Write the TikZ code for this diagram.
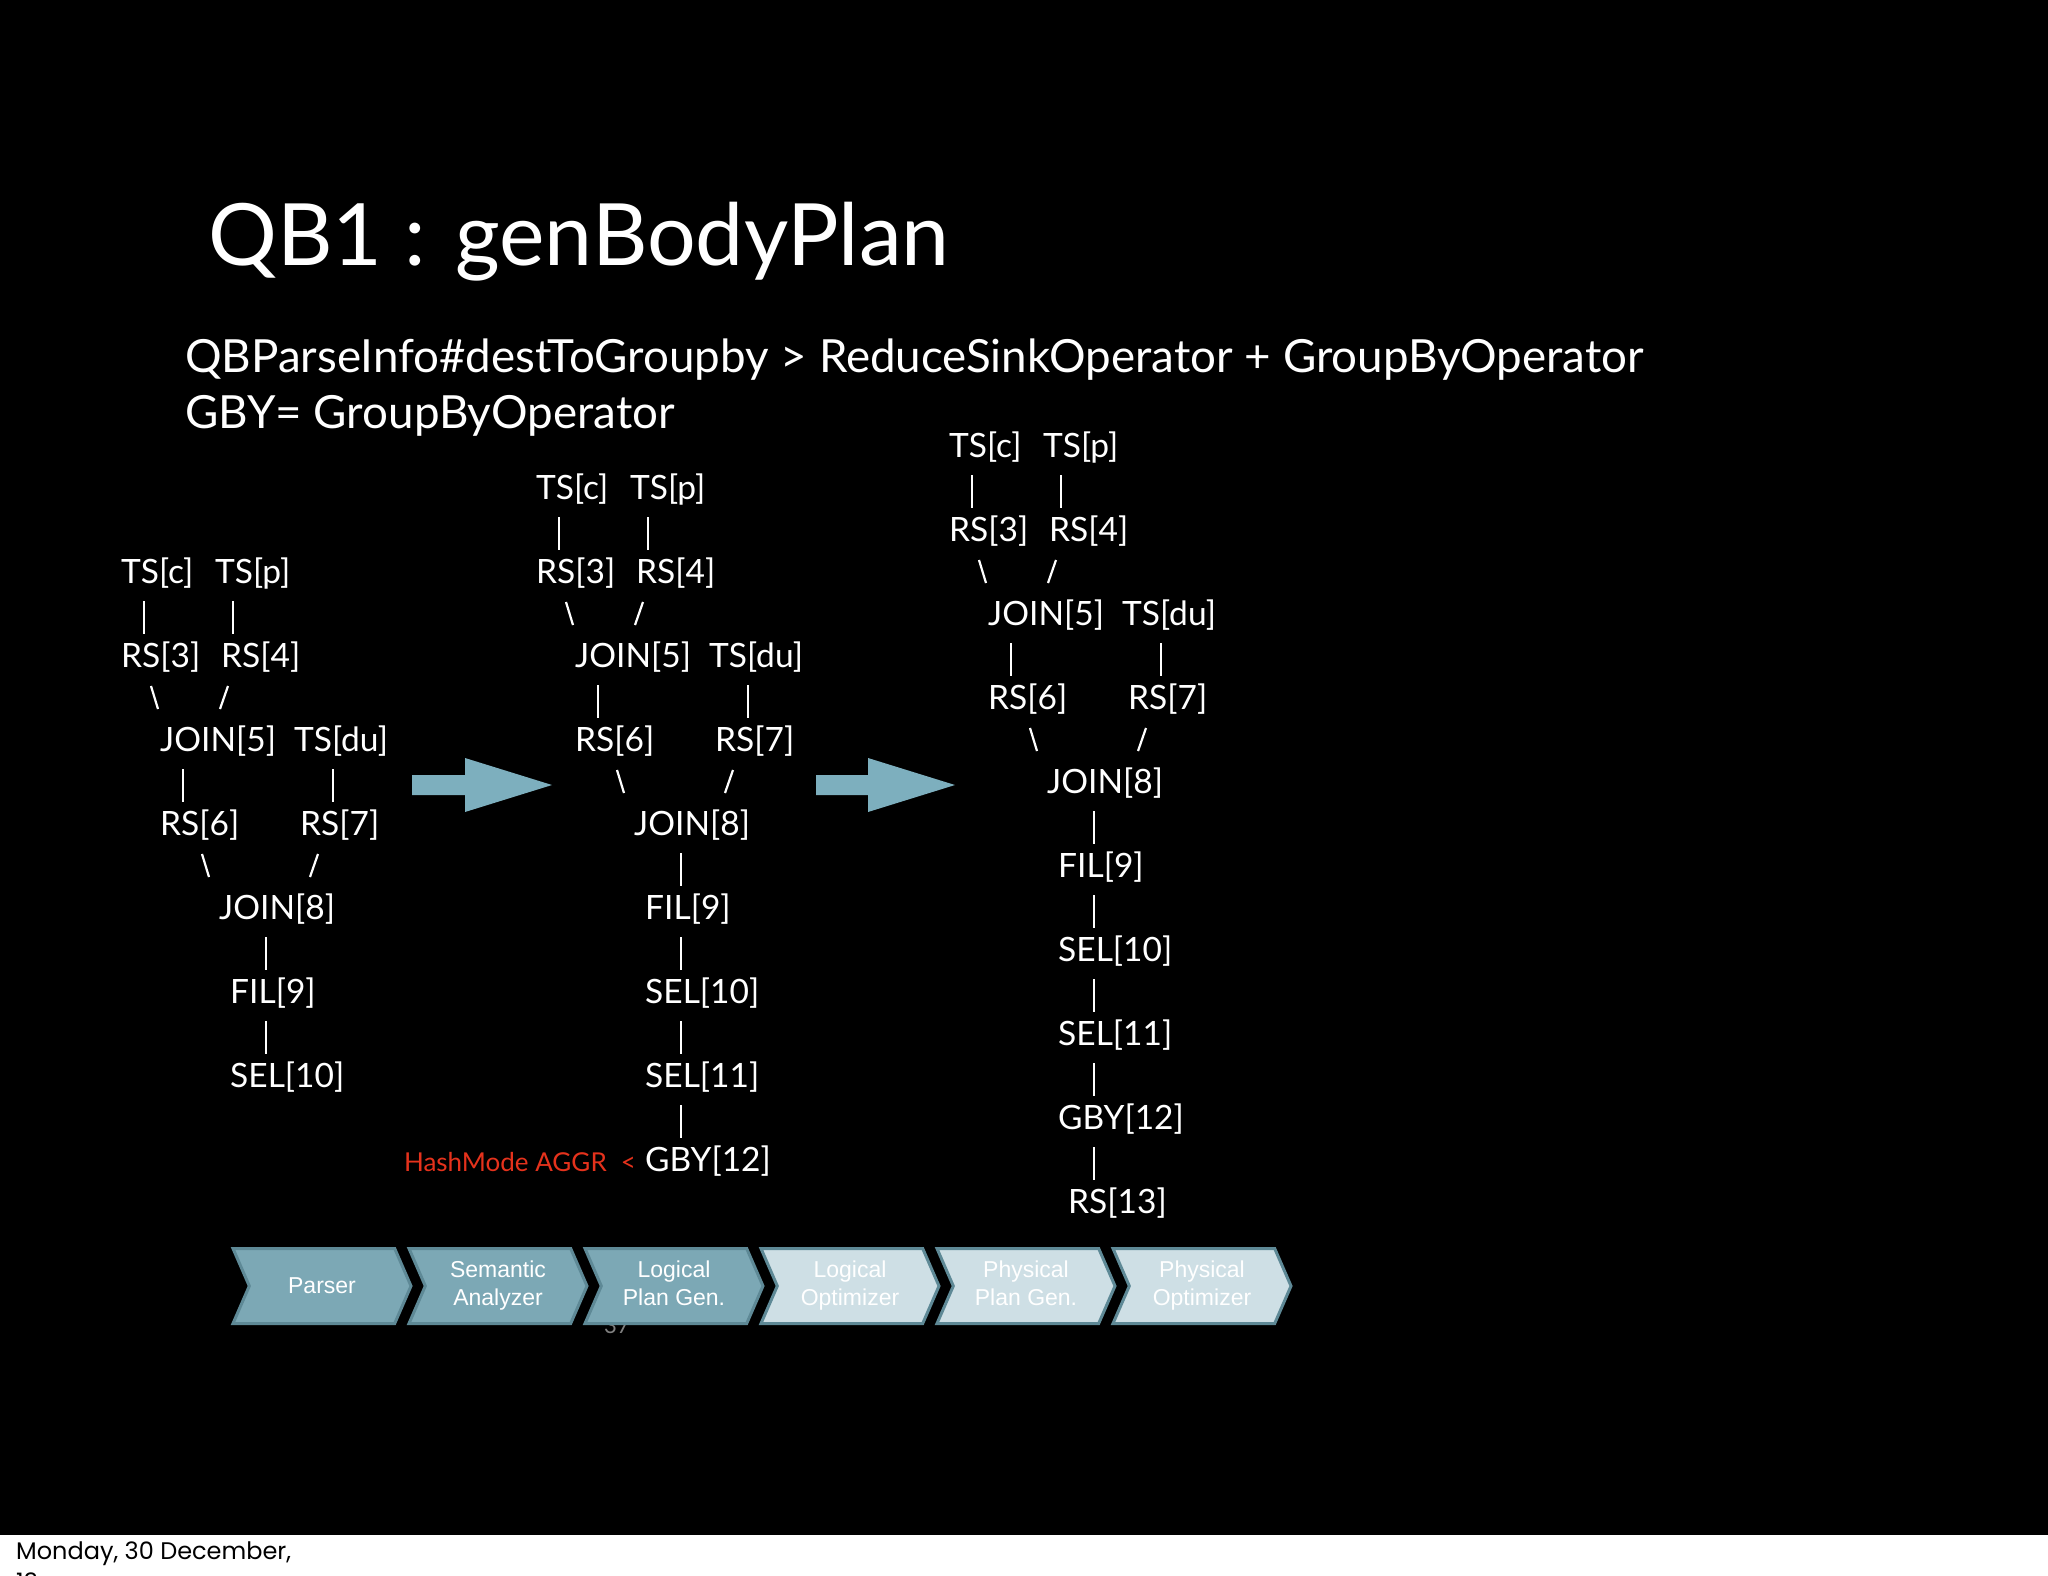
\documentclass[tikz,border=0pt]{standalone}
\usepackage{fontspec}
\setmainfont{Lato}
\newfontfamily\arialfont{Liberation Sans}
\newfontfamily\gothicfont{Poppins}
\usetikzlibrary{calc,shapes.symbols}
\definecolor{arrowblue}{HTML}{7DAFBE}
\definecolor{stepdark}{HTML}{7CA8B5}
\definecolor{steplight}{HTML}{CEDFE5}
\definecolor{stepedge}{HTML}{5E8996}
\definecolor{hashred}{HTML}{E5321C}
\tikzset{
  op/.style={text=white, inner sep=0pt, anchor=base west, font=\fontsize{33.5}{40}\selectfont},
  link/.style={white, line width=2.2pt},
  phase/.style={signal, signal to=east, signal from=west, signal pointer angle=133,
    draw=stepedge, line width=3pt, minimum width=178pt, minimum height=75pt,
    text=white, align=center, inner sep=0pt,
    font=\arialfont\fontsize{23}{28}\selectfont},
}

\begin{document}
\begin{tikzpicture}[x=1pt, y=-1pt]
  \useasboundingbox (0,0) rectangle (2048,1576);
  \fill[black] (0,0) rectangle (2048,1535);
  \fill[white] (0,1535) rectangle (2048,1576);

  % heading
  \node (title) [anchor=base west, text=white, inner sep=0pt, font=\fontsize{86}{100}\selectfont]
    at (208,265) {QB1 : genBodyPlan};
  \node (info1) [anchor=base west, text=white, inner sep=0pt, font=\fontsize{45.7}{56}\selectfont]
    at (185,372) {QBParseInfo\#destToGroupby > ReduceSinkOperator + GroupByOperator};
  \node (info2) [anchor=base west, text=white, inner sep=0pt, font=\fontsize{45.7}{56}\selectfont]
    at (185,428) {GBY= GroupByOperator};

  % plan after parsing
  \begin{scope}[shift={(121,583)}]
    \node[op] (tsc-a)   at (0,0)     {TS[c]};
    \node[op] (tsp-a)   at (94,0)    {TS[p]};
    \node[op] (rs3-a)   at (0,84)    {RS[3]};
    \node[op] (rs4-a)   at (100,84)  {RS[4]};
    \node[op] (join5-a) at (39,168)  {JOIN[5]};
    \node[op] (tsdu-a)  at (173,168) {TS[du]};
    \node[op] (rs6-a)   at (39,252)  {RS[6]};
    \node[op] (rs7-a)   at (179,252) {RS[7]};
    \node[op] (join8-a) at (98,336)  {JOIN[8]};
    \node[op] (fil9-a)  at (109,420) {FIL[9]};
    \node[op] (sel10-a) at (109,504) {SEL[10]};
  \end{scope}
  \draw[link] ([shift={(23,18)}]tsc-a.base west) -- ([shift={(23,-33)}]rs3-a.base west);
  \draw[link] ([shift={(18,18)}]tsp-a.base west) -- ([shift={(12,-33)}]rs4-a.base west);
  \draw[link] ([shift={(30,19)}]rs3-a.base west) -- ([shift={(-2,-42)}]join5-a.base west);
  \draw[link] ([shift={(7,19)}]rs4-a.base west) -- ([shift={(60,-42)}]join5-a.base west);
  \draw[link] ([shift={(23,18)}]join5-a.base west) -- ([shift={(23,-33)}]rs6-a.base west);
  \draw[link] ([shift={(39,18)}]tsdu-a.base west) -- ([shift={(33,-33)}]rs7-a.base west);
  \draw[link] ([shift={(42,19)}]rs6-a.base west) -- ([shift={(-10,-42)}]join8-a.base west);
  \draw[link] ([shift={(18,19)}]rs7-a.base west) -- ([shift={(91,-42)}]join8-a.base west);
  \draw[link] ([shift={(47,18)}]join8-a.base west) -- ([shift={(36,-33)}]fil9-a.base west);
  \draw[link] ([shift={(36,18)}]fil9-a.base west) -- ([shift={(36,-33)}]sel10-a.base west);

  % plan with group by
  \begin{scope}[shift={(536,499)}]
    \node[op] (tsc-b)   at (0,0)     {TS[c]};
    \node[op] (tsp-b)   at (94,0)    {TS[p]};
    \node[op] (rs3-b)   at (0,84)    {RS[3]};
    \node[op] (rs4-b)   at (100,84)  {RS[4]};
    \node[op] (join5-b) at (39,168)  {JOIN[5]};
    \node[op] (tsdu-b)  at (173,168) {TS[du]};
    \node[op] (rs6-b)   at (39,252)  {RS[6]};
    \node[op] (rs7-b)   at (179,252) {RS[7]};
    \node[op] (join8-b) at (98,336)  {JOIN[8]};
    \node[op] (fil9-b)  at (109,420) {FIL[9]};
    \node[op] (sel10-b) at (109,504) {SEL[10]};
    \node[op] (sel11-b) at (109,588) {SEL[11]};
    \node[op] (gby12-b) at (109,672) {GBY[12]};
  \end{scope}
  \draw[link] ([shift={(23,18)}]tsc-b.base west) -- ([shift={(23,-33)}]rs3-b.base west);
  \draw[link] ([shift={(18,18)}]tsp-b.base west) -- ([shift={(12,-33)}]rs4-b.base west);
  \draw[link] ([shift={(30,19)}]rs3-b.base west) -- ([shift={(-2,-42)}]join5-b.base west);
  \draw[link] ([shift={(7,19)}]rs4-b.base west) -- ([shift={(60,-42)}]join5-b.base west);
  \draw[link] ([shift={(23,18)}]join5-b.base west) -- ([shift={(23,-33)}]rs6-b.base west);
  \draw[link] ([shift={(39,18)}]tsdu-b.base west) -- ([shift={(33,-33)}]rs7-b.base west);
  \draw[link] ([shift={(42,19)}]rs6-b.base west) -- ([shift={(-10,-42)}]join8-b.base west);
  \draw[link] ([shift={(18,19)}]rs7-b.base west) -- ([shift={(91,-42)}]join8-b.base west);
  \draw[link] ([shift={(47,18)}]join8-b.base west) -- ([shift={(36,-33)}]fil9-b.base west);
  \draw[link] ([shift={(36,18)}]fil9-b.base west) -- ([shift={(36,-33)}]sel10-b.base west);
  \draw[link] ([shift={(36,18)}]sel10-b.base west) -- ([shift={(36,-33)}]sel11-b.base west);
  \draw[link] ([shift={(36,18)}]sel11-b.base west) -- ([shift={(36,-33)}]gby12-b.base west);
  \node (hashmode) [anchor=base east, inner sep=0pt, text=hashred, font=\fontsize{26}{30}\selectfont]
    at ([xshift=-9pt]gby12-b.base west) {HashMode AGGR\hspace{14pt}<};

  % plan with reduce sink
  \begin{scope}[shift={(949,457)}]
    \node[op] (tsc-c)   at (0,0)     {TS[c]};
    \node[op] (tsp-c)   at (94,0)    {TS[p]};
    \node[op] (rs3-c)   at (0,84)    {RS[3]};
    \node[op] (rs4-c)   at (100,84)  {RS[4]};
    \node[op] (join5-c) at (39,168)  {JOIN[5]};
    \node[op] (tsdu-c)  at (173,168) {TS[du]};
    \node[op] (rs6-c)   at (39,252)  {RS[6]};
    \node[op] (rs7-c)   at (179,252) {RS[7]};
    \node[op] (join8-c) at (98,336)  {JOIN[8]};
    \node[op] (fil9-c)  at (109,420) {FIL[9]};
    \node[op] (sel10-c) at (109,504) {SEL[10]};
    \node[op] (sel11-c) at (109,588) {SEL[11]};
    \node[op] (gby12-c) at (109,672) {GBY[12]};
    \node[op] (rs13-c)  at (119,756) {RS[13]};
  \end{scope}
  \draw[link] ([shift={(23,18)}]tsc-c.base west) -- ([shift={(23,-33)}]rs3-c.base west);
  \draw[link] ([shift={(18,18)}]tsp-c.base west) -- ([shift={(12,-33)}]rs4-c.base west);
  \draw[link] ([shift={(30,19)}]rs3-c.base west) -- ([shift={(-2,-42)}]join5-c.base west);
  \draw[link] ([shift={(7,19)}]rs4-c.base west) -- ([shift={(60,-42)}]join5-c.base west);
  \draw[link] ([shift={(23,18)}]join5-c.base west) -- ([shift={(23,-33)}]rs6-c.base west);
  \draw[link] ([shift={(39,18)}]tsdu-c.base west) -- ([shift={(33,-33)}]rs7-c.base west);
  \draw[link] ([shift={(42,19)}]rs6-c.base west) -- ([shift={(-10,-42)}]join8-c.base west);
  \draw[link] ([shift={(18,19)}]rs7-c.base west) -- ([shift={(91,-42)}]join8-c.base west);
  \draw[link] ([shift={(47,18)}]join8-c.base west) -- ([shift={(36,-33)}]fil9-c.base west);
  \draw[link] ([shift={(36,18)}]fil9-c.base west) -- ([shift={(36,-33)}]sel10-c.base west);
  \draw[link] ([shift={(36,18)}]sel10-c.base west) -- ([shift={(36,-33)}]sel11-c.base west);
  \draw[link] ([shift={(36,18)}]sel11-c.base west) -- ([shift={(36,-33)}]gby12-c.base west);
  \draw[link] ([shift={(36,18)}]gby12-c.base west) -- ([shift={(26,-33)}]rs13-c.base west);

  % block arrows between the plans
  \fill[arrowblue] (412,775) -- (465,775) -- (465,758) -- (552,785) -- (465,812) -- (465,795) -- (412,795) -- cycle;
  \fill[arrowblue] (816,775) -- (868,775) -- (868,758) -- (955,785) -- (868,812) -- (868,795) -- (816,795) -- cycle;

  % compiler phases
  \node (pageno) [text=gray, font=\fontsize{22}{26}\selectfont] at (617,1326) {37};
  \node[phase, fill=stepdark]  (parser)   at (322,1286) {Parser};
  \node[phase, fill=stepdark]  (semantic) at (498,1286) {Semantic\strut\\Analyzer\strut};
  \node[phase, fill=stepdark]  (logplan)  at (674,1286) {Logical\strut\\Plan Gen.\strut};
  \node[phase, fill=steplight] (logopt)   at (850,1286) {Logical\strut\\Optimizer\strut};
  \node[phase, fill=steplight] (physplan) at (1026,1286) {Physical\strut\\Plan Gen.\strut};
  \node[phase, fill=steplight] (physopt)  at (1202,1286) {Physical\strut\\Optimizer\strut};

  % footer
  \node (date) [anchor=base west, inner sep=0pt, text=black,
    font=\gothicfont\fontsize{24}{31}\selectfont] at (16,1559) {Monday, 30 December,};
  \node (year) [anchor=base west, inner sep=0pt, text=black,
    font=\gothicfont\fontsize{24}{31}\selectfont] at (16,1590) {13};
\end{tikzpicture}
\end{document}
